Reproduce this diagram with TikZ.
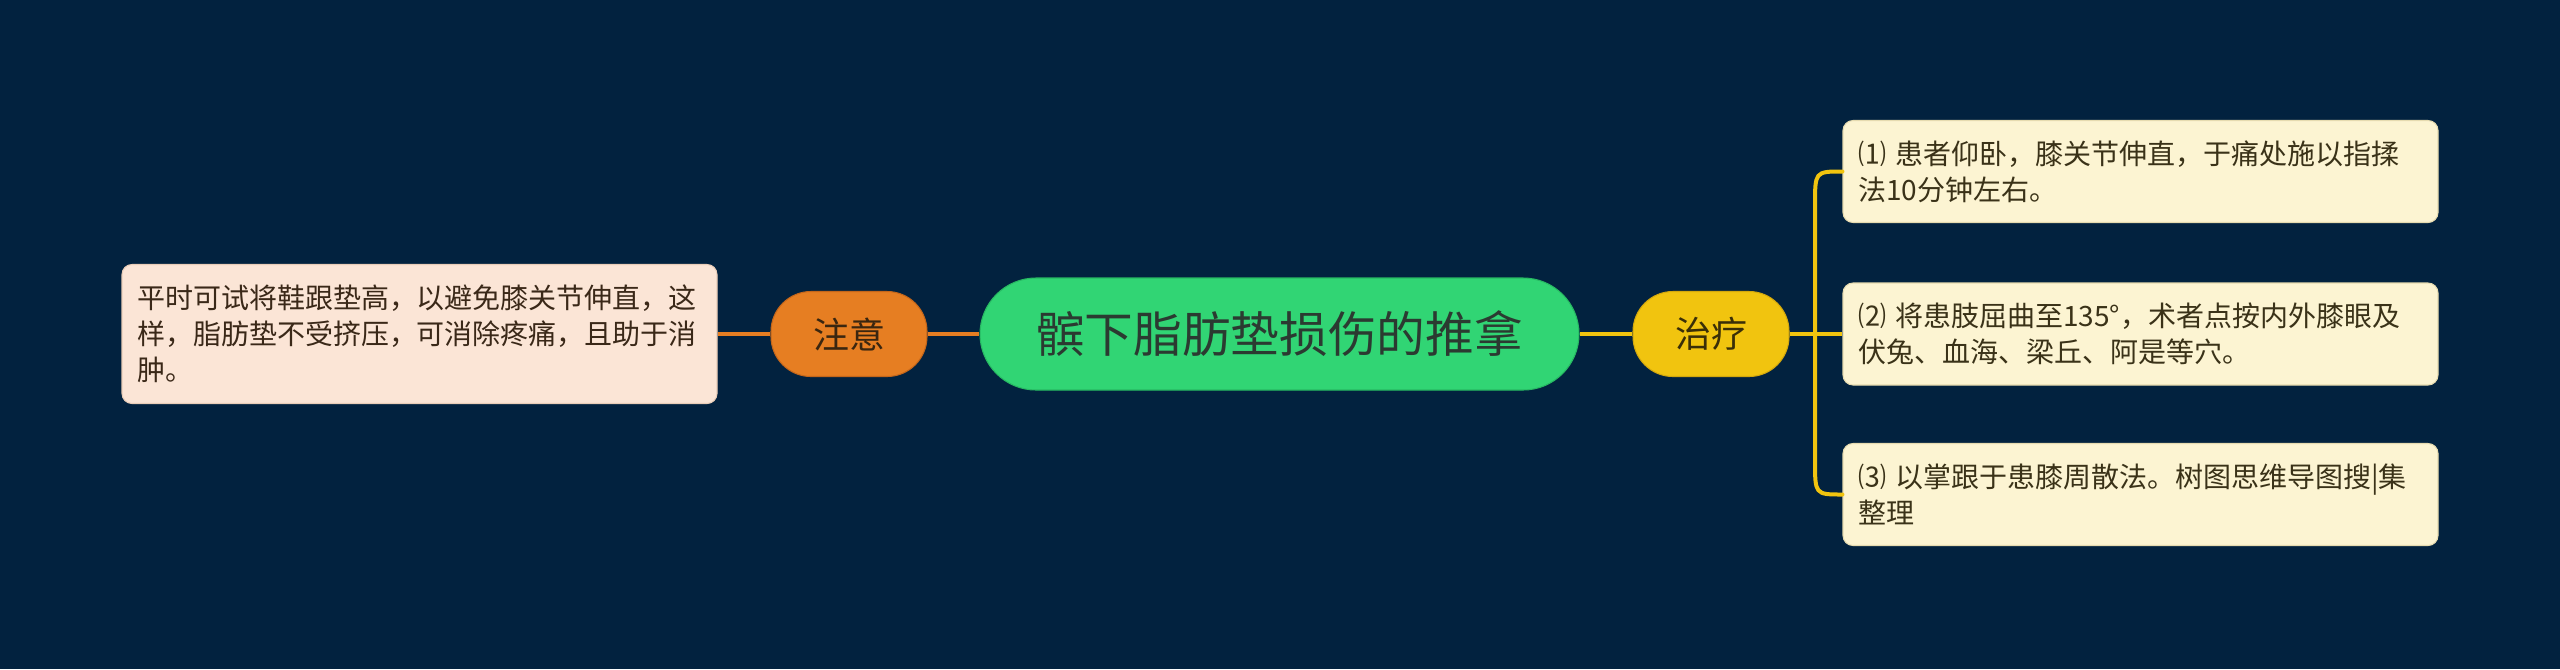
\documentclass[tikz,border=0pt]{standalone}
\usepackage{fontspec}
\newfontfamily\cjk{Noto Sans CJK SC}
\usetikzlibrary{calc}
\definecolor{bg}{HTML}{02223F}
\definecolor{rootfill}{HTML}{31D574}
\definecolor{rootdraw}{HTML}{27B862}
\definecolor{roottext}{HTML}{2B3A31}
\definecolor{orfill}{HTML}{E67E22}
\definecolor{ordraw}{HTML}{C4661A}
\definecolor{ortext}{HTML}{3A2610}
\definecolor{yefill}{HTML}{F1C40F}
\definecolor{yedraw}{HTML}{D4A80C}
\definecolor{yetext}{HTML}{3A2F08}
\definecolor{peach}{HTML}{FBE5D6}
\definecolor{peachdraw}{HTML}{E9CDB8}
\definecolor{peachtext}{HTML}{3A2818}
\definecolor{cream}{HTML}{FCF4D2}
\definecolor{creamdraw}{HTML}{E6DBB0}
\definecolor{creamtext}{HTML}{3A3218}
\begin{document}
\begin{tikzpicture}[x=0.75pt,y=-0.75pt,
  conn/.style={line width=3pt},
  rootbox/.style={rectangle, rounded corners=42pt, fill=rootfill, draw=rootdraw, line width=0.8pt,
    minimum width=449.25pt, minimum height=84pt, text=roottext,
    font=\cjk\fontsize{36.5}{44}\selectfont},
  midbox/.style={rectangle, rounded corners=30pt, line width=0.8pt,
    minimum width=117pt, minimum height=63.75pt,
    font=\cjk\fontsize{27}{32}\selectfont},
  leafbox/.style={rectangle, rounded corners=7.5pt, line width=0.8pt,
    align=left, inner xsep=11.25pt, inner ysep=0pt, text width=423.75pt,
    font=\cjk\fontsize{21}{27}\selectfont},
]
\fill[bg] (0,0) rectangle (2560,669);
\useasboundingbox (0,0) rectangle (2560,669);

\node[rootbox] (root) at (1279.5,334) {髌下脂肪垫损伤的推拿};
\node[midbox, fill=orfill, draw=ordraw, text=ortext] (zhuyi) at (849,334) {注意};
\node[midbox, fill=yefill, draw=yedraw, text=yetext] (zhiliao) at (1711,334) {治疗};

\node[leafbox, fill=peach, draw=peachdraw, text=peachtext, minimum height=104.25pt] (lbox) at (419.5,334)
  {平时可试将鞋跟垫高，以避免膝关节伸直，这\\样，脂肪垫不受挤压，可消除疼痛，且助于消\\肿。};

\node[leafbox, fill=cream, draw=creamdraw, text=creamtext, minimum height=76.5pt] (r1) at (2140.5,171.5)
  {⑴ 患者仰卧，膝关节伸直，于痛处施以指揉\\法10分钟左右。};
\node[leafbox, fill=cream, draw=creamdraw, text=creamtext, minimum height=76.5pt] (r2) at (2140.5,334)
  {⑵ 将患肢屈曲至135°，术者点按内外膝眼及\\伏兔、血海、梁丘、阿是等穴。};
\node[leafbox, fill=cream, draw=creamdraw, text=creamtext, minimum height=76.5pt] (r3) at (2140.5,494.5)
  {⑶ 以掌跟于患膝周散法。树图思维导图搜|集\\整理};

\coordinate (fork) at (1815,334);

\draw[conn, orfill] (lbox.east) -- (zhuyi.west);
\draw[conn, orfill] (zhuyi.east) -- (root.west);
\draw[conn, yefill] (root.east) -- (zhiliao.west);
\draw[conn, yefill] (zhiliao.east) -- (r2.west);
\draw[conn, yefill, line cap=round] (fork) -- ($(fork |- r1.west)+(0,34)$) .. controls (fork |- r1.west) .. (r1.west);
\draw[conn, yefill, line cap=round] (fork) -- ($(fork |- r3.west)+(0,-34)$) .. controls (fork |- r3.west) .. (r3.west);
\end{tikzpicture}
\end{document}
